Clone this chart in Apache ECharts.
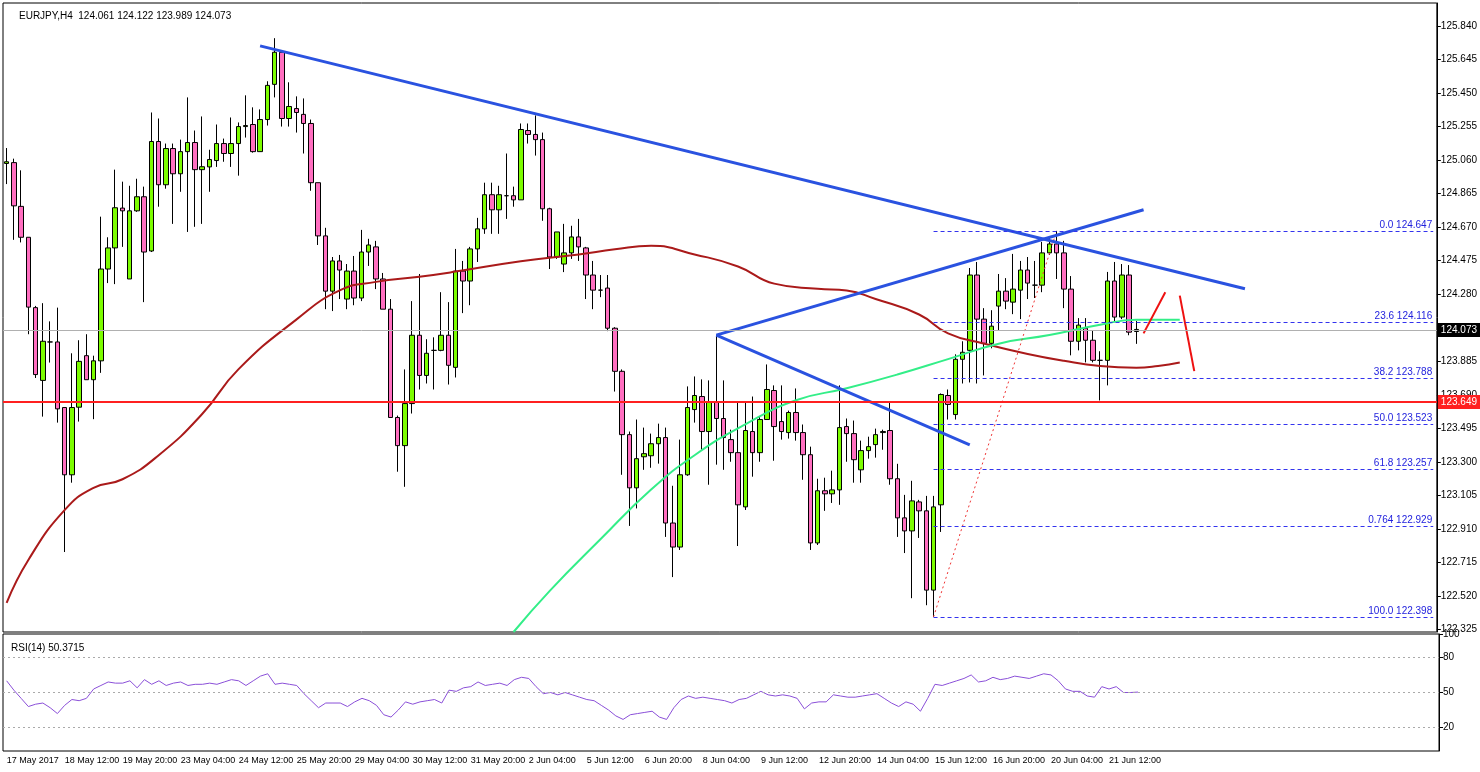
<!DOCTYPE html>
<html>
<head>
<meta charset="utf-8">
<script src="https://cdn.jsdelivr.net/npm/echarts@6/dist/echarts.min.js"></script>
<style>html,body{margin:0;padding:0;background:#fff}#ChartMain{width:1480px;height:772px}</style>
</head>
<body>
<div id="ChartMain"></div>
<script>
// EURJPY H4 candles: [open, close, low, high]
var candles = [
[125.04,125.05,124.92,125.13],[125.045,124.793,124.595,125.068],[124.79,124.61,124.58,125.00],[124.61,124.203,124.045,124.61],
[124.20,123.81,123.79,124.21],[123.776,124.004,123.565,124.226],[124.00,124.00,123.88,124.12],[124.00,123.61,123.53,124.20],
[123.618,123.226,122.776,123.62],[123.226,123.618,123.18,123.934],[123.62,123.887,123.536,124.01],[123.92,123.78,123.78,124.045],
[123.78,123.89,123.55,123.92],[123.89,124.425,123.82,124.73],[124.425,124.548,124.343,124.61],[124.548,124.782,124.337,125.004],
[124.78,124.764,124.554,124.934],[124.367,124.764,124.367,124.91],[124.764,124.846,124.758,124.951],[124.846,124.524,124.232,124.905],
[124.53,125.168,124.524,125.337],[125.168,124.916,124.788,125.302],[124.916,125.127,124.893,125.156],[125.127,124.98,124.688,125.156],
[124.98,125.109,124.875,125.179],[125.109,125.162,124.641,125.425],[125.162,125.004,124.671,125.232],[125.004,125.021,124.688,125.314],
[125.02,125.063,124.875,125.12],[125.057,125.156,125.02,125.267],[125.156,125.098,125.05,125.185],[125.098,125.156,125.02,125.308],
[125.156,125.255,124.969,125.279],[125.255,125.261,125.191,125.437],[125.267,125.109,125.103,125.367],[125.109,125.296,125.109,125.355],
[125.296,125.495,125.261,125.519],[125.501,125.688,125.425,125.77],[125.688,125.302,125.255,125.688],[125.302,125.372,125.255,125.513],
[125.36,125.337,125.22,125.431],[125.326,125.273,125.098,125.419],[125.273,124.928,124.881,125.296],[124.928,124.618,124.565,124.928],
[124.618,124.296,124.191,124.665],[124.296,124.472,124.18,124.495],[124.472,124.419,124.25,124.507],[124.25,124.413,124.191,124.454],
[124.413,124.256,124.214,124.501],[124.256,124.524,124.238,124.653],[124.524,124.565,124.443,124.601],[124.554,124.367,124.308,124.589],
[124.367,124.191,124.191,124.402],[124.191,123.56,123.56,124.25],[123.56,123.396,123.244,123.571],[123.396,123.641,123.156,123.84],
[123.641,124.039,123.583,124.238],[124.039,123.805,123.723,124.396],[123.805,123.934,123.758,124.016],[123.951,123.951,123.723,124.027],
[123.951,124.039,123.946,124.29],[124.039,123.864,123.752,124.232],[123.852,124.413,123.793,124.542],[124.413,124.355,124.168,124.472],
[124.355,124.542,124.214,124.554],[124.542,124.659,124.466,124.723],[124.659,124.858,124.63,124.928],[124.858,124.77,124.63,124.928],
[124.77,124.858,124.63,124.91],[124.852,124.852,124.717,125.098],[124.852,124.828,124.788,124.905],[124.828,125.238,124.828,125.273],
[125.232,125.209,125.156,125.273],[125.209,125.179,125.086,125.32],[125.179,124.776,124.706,125.22],[124.776,124.495,124.425,124.782],
[124.495,124.641,124.484,124.641],[124.454,124.519,124.407,124.688],[124.519,124.612,124.484,124.677],[124.612,124.554,124.472,124.717],
[124.548,124.39,124.25,124.554],[124.39,124.302,124.191,124.472],[124.302,124.302,124.261,124.39],[124.314,124.08,124.063,124.39],
[124.08,123.829,123.711,124.086],[123.829,123.46,123.226,123.84],[123.46,123.15,122.928,123.478],[123.15,123.32,123.03,123.548],
[123.331,123.349,123.255,123.501],[123.337,123.407,123.267,123.466],[123.407,123.443,123.291,123.524],[123.443,122.945,122.864,123.501],
[122.945,122.805,122.63,123.162],[122.805,123.226,122.788,123.431],[123.226,123.618,123.22,123.741],[123.606,123.688,123.53,123.799],
[123.682,123.478,123.372,123.782],[123.478,123.653,123.168,123.776],[123.653,123.554,123.285,124.039],[123.554,123.443,123.255,123.776],
[123.431,123.355,123.302,123.489],[123.355,123.051,122.811,123.653],[123.039,123.484,123.021,123.647],[123.478,123.355,123.215,123.682],
[123.355,123.548,123.302,123.565],[123.548,123.723,123.548,123.869],[123.717,123.507,123.308,123.747],[123.536,123.478,123.431,123.747],
[123.472,123.589,123.437,123.6],[123.589,123.472,123.425,123.729],[123.472,123.343,123.197,123.519],[123.343,122.829,122.788,123.39],
[122.829,123.133,122.817,123.203],[123.133,123.115,123.016,123.209],[123.115,123.138,123.062,123.25],[123.138,123.501,123.051,123.747],
[123.507,123.466,123.302,123.554],[123.466,123.314,123.18,123.542],[123.255,123.367,123.18,123.425],[123.367,123.39,123.32,123.448],
[123.402,123.46,123.326,123.495],[123.472,123.478,123.372,123.489],[123.484,123.203,123.168,123.653],[123.203,122.975,122.864,123.29],
[122.975,122.899,122.77,123.109],[122.899,123.074,122.507,123.191],[123.068,123.016,122.858,123.08],[123.016,122.554,122.466,123.103],
[122.554,123.039,122.398,123.103],[123.051,123.694,122.893,123.7],[123.688,123.636,123.548,123.723],[123.577,123.899,123.548,123.928],
[123.899,123.94,123.758,124.004],[123.951,124.39,123.764,124.431],[124.39,124.133,123.758,124.466],[124.133,123.992,123.805,124.197],
[123.992,124.092,123.963,124.185],[124.209,124.296,124.068,124.396],[124.296,124.238,124.191,124.372],[124.232,124.308,124.162,124.513],
[124.302,124.419,124.133,124.472],[124.419,124.343,124.25,124.495],[124.331,124.331,124.256,124.472],[124.331,124.519,124.29,124.583],
[124.519,124.571,124.507,124.606],[124.571,124.519,124.367,124.647],[124.519,124.308,124.197,124.589],[124.308,124.004,123.922,124.384],
[124.004,124.098,123.951,124.139],[124.08,124.01,123.881,124.139],[124.01,123.893,123.881,124.068],[123.893,123.893,123.659,123.946],
[123.893,124.355,123.747,124.408],[124.355,124.145,124.121,124.466],[124.145,124.39,124.133,124.454],[124.39,124.057,124.039,124.448],
[124.061,124.073,123.989,124.122]
];
var rsi = [60,52,45,38,40,41,37,32,39,44,43,45,53,56,59,58,58,60,54,61,57,60,56,58,59,56,57,57,58,57,59,61,60,56,60,64,66,57,58,57,
56,49,43,37,41,41,41,38,42,45,43,39,31,29,35,42,40,42,43,44,41,52,51,54,55,59,56,57,58,56,61,63,62,55,49,50,48,50,48,46,
44,43,39,35,30,27,31,32,33,34,29,27,37,44,47,45,46,45,44,43,41,44,45,48,51,48,47,48,47,45,36,41,42,42,48,47,46,46,47,48,
49,45,41,38,42,40,34,45,57,56,58,60,62,65,59,60,63,61,62,64,63,62,64,66,65,60,53,51,51,47,46,55,53,55,50,50,50.37];
// moving averages: [candle index, price]
var maSlow = [[0,122.48],[3,122.73],[8,123.02],[12,123.15],[16,123.20],[21,123.34],[27,123.58],[32,123.84],[40,124.13],[46,124.30],
[51,124.35],[57,124.38],[62,124.41],[71,124.47],[79,124.51],[84,124.54],[89,124.56],[95,124.51],[101,124.44],[106,124.34],
[112,124.31],[116,124.30],[120,124.25],[126,124.16],[130,124.05],[135,123.99],[141,123.93],[146,123.89],[151,123.86],[156,123.85],[159,123.86],[162,123.88]];
var maFast = [[70,122.31],[75,122.55],[82,122.85],[89,123.14],[95,123.34],[102,123.52],[109,123.66],[116,123.73],[123,123.81],
[130,123.90],[137,123.99],[144,124.04],[151,124.10],[156,124.13],[162,124.13]];
var trendLines = [[[35,125.725],[171,124.31]],[[98,124.04],[157,124.77]],[[98,124.04],[133,123.40]]];
var redStrokes = [[[157,124.05],[160,124.29]],[[162,124.27],[164,123.83]]];
var fibLevels = [['0.0',124.647],['23.6',124.116],['38.2',123.788],['50.0',123.523],['61.8',123.257],['0.764',122.929],['100.0',122.398]];
var fibStart = 128;
var supportLevel = 123.649, lastPrice = 124.073;
var priceTicks = [122.325,122.520,122.715,122.910,123.105,123.300,123.495,123.690,123.885,124.280,124.475,124.670,124.865,125.060,125.255,125.450,125.645,125.840];
var rsiTicks = [20,50,80,100];
var timeLabels = ['17 May 2017','18 May 12:00','19 May 20:00','23 May 04:00','24 May 12:00','25 May 20:00','29 May 04:00','30 May 12:00',
'31 May 20:00','2 Jun 04:00','5 Jun 12:00','6 Jun 20:00','8 Jun 04:00','9 Jun 12:00','12 Jun 20:00','14 Jun 04:00','15 Jun 12:00',
'16 Jun 20:00','20 Jun 04:00','21 Jun 12:00'];
var SLOTS = 198;

function GenerateChart() {
    var chart = echarts.init(document.getElementById('ChartMain'));
    var cats = [];
    for (var i = 0; i < SLOTS; i++) cats.push(i % 8 === 0 && timeLabels[i / 8] ? timeLabels[i / 8] : '');
    var font = 'Liberation Sans';

    var fibLines = fibLevels.map(function (f) {
        return [{coord: [fibStart, f[1]], label: {formatter: f[0] + ' ' + f[1].toFixed(3)}}, {coord: [SLOTS - 1, f[1]]}];
    });
    var series = [{
        type: 'candlestick', data: candles, barWidth: 5,
        itemStyle: {color: '#7cfc00', color0: '#ff6ec0', borderColor: '#000', borderColor0: '#000', borderWidth: 1},
        markLine: {
            silent: true, symbol: 'none', animation: false,
            data: [
                {yAxis: lastPrice, lineStyle: {color: '#b0b0b0', type: 'solid', width: 1},
                    label: {position: 'end', formatter: lastPrice.toFixed(3), backgroundColor: '#000', color: '#fff', padding: [2, 3], distance: 1, fontFamily: font, fontSize: 10}},
                {yAxis: supportLevel, lineStyle: {color: '#ff2020', type: 'solid', width: 2},
                    label: {position: 'end', formatter: supportLevel.toFixed(3), backgroundColor: '#ff2020', color: '#fff', padding: [2, 3], distance: 1, fontFamily: font, fontSize: 10}}
            ]
        }
    }, {
        type: 'line', data: [], markLine: {
            silent: true, symbol: 'none', animation: false,
            lineStyle: {color: '#3333ee', type: [4, 3], width: 1},
            label: {position: 'insideEndTop', color: '#2222dd', fontFamily: font, fontSize: 10, distance: 1},
            data: fibLines
        }
    }, {
        type: 'line', data: maSlow, smooth: true, showSymbol: false, lineStyle: {color: '#aa1a1a', width: 2}
    }, {
        type: 'line', data: maFast, smooth: true, showSymbol: false, lineStyle: {color: '#33ee88', width: 2}
    }, {
        type: 'line', data: [[fibStart, fibLevels[6][1]], [145, fibLevels[0][1]]], showSymbol: false,
        lineStyle: {color: '#ee3333', width: 1, type: [2, 3]}
    }];
    trendLines.forEach(function (t) {
        series.push({type: 'line', data: t, showSymbol: false, lineStyle: {color: '#2a52e0', width: 3}});
    });
    redStrokes.forEach(function (t) {
        series.push({type: 'line', data: t, showSymbol: false, lineStyle: {color: '#ee1111', width: 2}});
    });
    series.push({
        type: 'line', xAxisIndex: 1, yAxisIndex: 1, data: rsi, showSymbol: false,
        lineStyle: {color: '#8a4fd8', width: 1},
        markLine: {silent: true, symbol: 'none', label: {show: false}, lineStyle: {color: '#aaa', type: [2, 3], width: 1},
            data: [{yAxis: 20}, {yAxis: 50}, {yAxis: 80}]}
    });

    var option = {
        animation: false,
        title: [
            {text: 'EURJPY,H4  124.061 124.122 123.989 124.073', left: 14, top: 6, textStyle: {fontSize: 10, fontWeight: 'normal', color: '#000', fontFamily: font}},
            {text: 'RSI(14) 50.3715', left: 6, top: 638, textStyle: {fontSize: 10, fontWeight: 'normal', color: '#000', fontFamily: font}}
        ],
        grid: [
            {left: 3, right: 41, top: 3, height: 629, show: true, borderColor: '#000', borderWidth: 1},
            {left: 3, right: 41, top: 634, height: 117, show: true, borderColor: '#000', borderWidth: 1}
        ],
        xAxis: [
            {type: 'category', data: cats, gridIndex: 0, boundaryGap: true, axisLabel: {show: false}, axisTick: {show: false}, axisLine: {show: false}},
            {type: 'category', data: cats, gridIndex: 1, boundaryGap: true, axisLine: {show: false},
                axisTick: {interval: function (i) { return i % 8 === 0 && i / 8 < timeLabels.length; }, length: 4, lineStyle: {color: '#000'}},
                axisLabel: {interval: function (i) { return i % 8 === 0; }, align: 'left', margin: 5, color: '#000', fontSize: 9, fontFamily: font}}
        ],
        yAxis: [
            {type: 'value', gridIndex: 0, position: 'right', min: 122.31, max: 125.975, scale: true,
                axisLine: {show: true, lineStyle: {color: '#000'}}, splitLine: {show: false},
                axisTick: {show: true, customValues: priceTicks, length: 4, lineStyle: {color: '#000'}},
                axisLabel: {customValues: priceTicks, formatter: function (v) { return v.toFixed(3); }, color: '#000', fontSize: 10, fontFamily: font, margin: 4}},
            {type: 'value', gridIndex: 1, position: 'right', min: 0, max: 100,
                axisLine: {show: true, lineStyle: {color: '#000'}}, splitLine: {show: false},
                axisTick: {show: true, customValues: rsiTicks, length: 4, lineStyle: {color: '#000'}},
                axisLabel: {customValues: rsiTicks, color: '#000', fontSize: 10, fontFamily: font, margin: 4}}
        ],
        series: series
    };
    chart.setOption(option);
}
GenerateChart();
</script>
</body>
</html>
